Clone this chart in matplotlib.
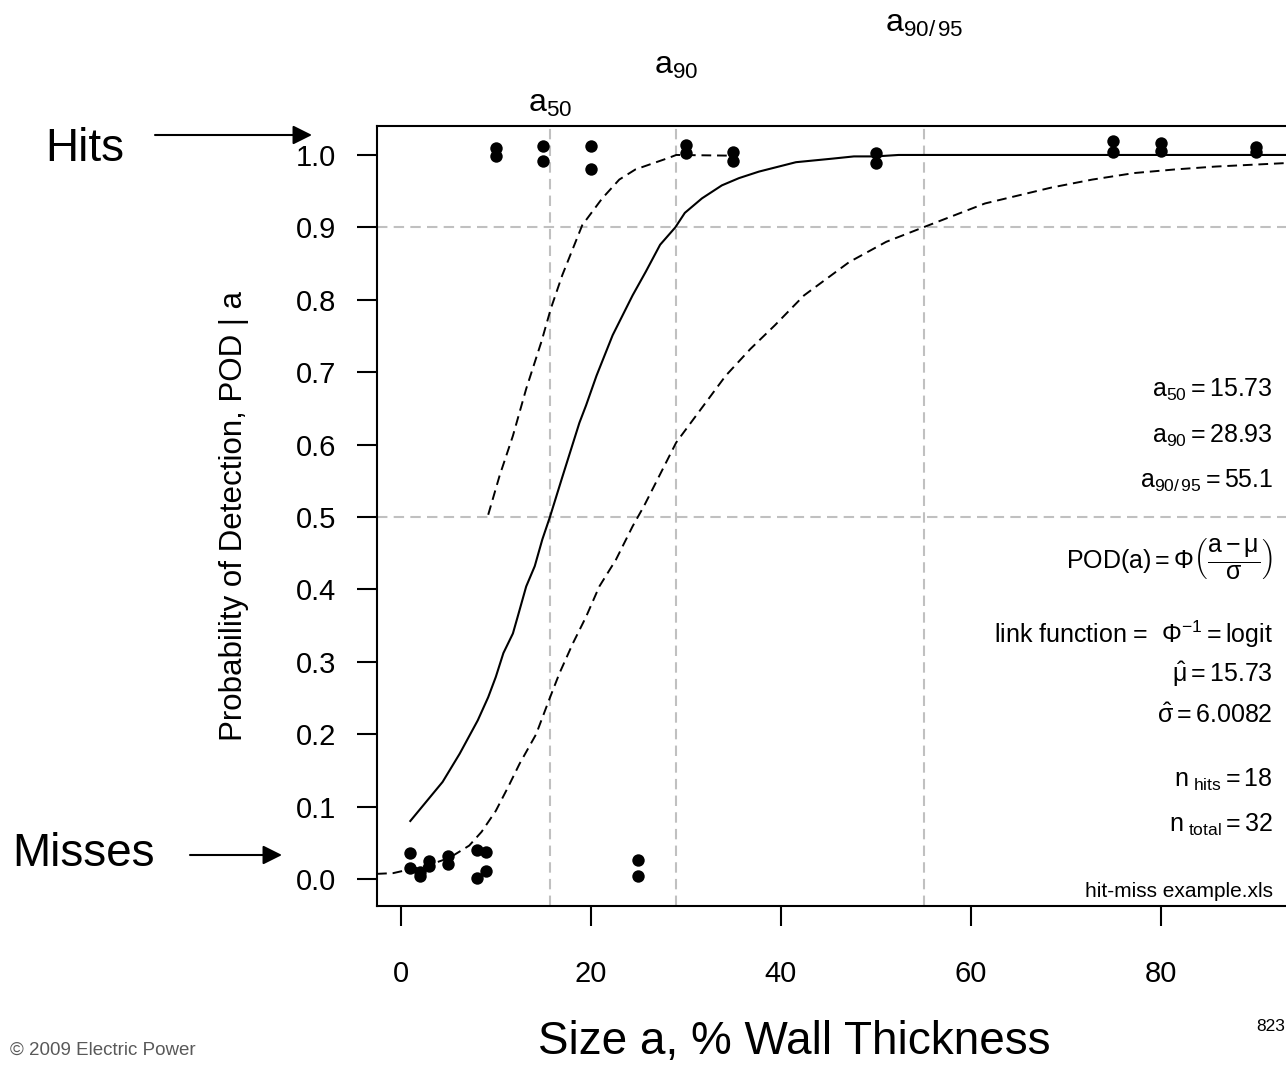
import numpy as np
import matplotlib
matplotlib.use('Agg')
import matplotlib.pyplot as plt
import matplotlib.transforms as mtransforms

plt.rcParams['font.family'] = ['Liberation Sans', 'DejaVu Sans']
plt.rcParams['mathtext.fontset'] = 'custom'
plt.rcParams['mathtext.rm'] = 'Liberation Sans'
plt.rcParams['mathtext.it'] = 'Liberation Sans'
plt.rcParams['mathtext.sf'] = 'Liberation Sans'
plt.rcParams['mathtext.bf'] = 'Liberation Sans:bold'

#__________________________________________________________
# hit / miss observations (size a, jittered POD)
hit_x = [10, 10, 15, 15, 20, 20, 30, 30, 35, 35, 50, 50, 75, 75, 80, 80, 90, 90]
hit_y = [1.010, 0.999, 1.013, 0.992, 1.013, 0.981, 1.014, 1.003, 1.004, 0.992,
         1.003, 0.989, 1.019, 1.004, 1.017, 1.005, 1.011, 1.004]
miss_x = [1, 1, 2, 2, 3, 3, 5, 5, 8, 8, 9, 9, 25, 25]
miss_y = [0.036, 0.015, 0.004, 0.010, 0.025, 0.018, 0.032, 0.021, 0.040, 0.001,
          0.037, 0.011, 0.026, 0.004]

# fitted POD curve
pod_x = [1.0, 4.4, 6.2, 8.1, 9.2, 10.0, 10.8, 11.8, 12.3, 13.2, 14.1, 14.9, 15.7,
         17.0, 18.8, 19.5, 20.6, 22.3, 24.4, 25.8, 27.3, 28.9, 29.9, 31.7, 33.8,
         35.6, 37.7, 39.5, 41.6, 45.5, 47.7, 50.0, 52.4, 93.5]
pod_y = [0.080, 0.134, 0.173, 0.219, 0.251, 0.279, 0.312, 0.339, 0.362, 0.404,
         0.432, 0.469, 0.500, 0.555, 0.630, 0.654, 0.695, 0.751, 0.806, 0.839,
         0.876, 0.900, 0.920, 0.940, 0.958, 0.968, 0.977, 0.983, 0.990, 0.995,
         0.998, 0.998, 1.000, 1.000]

# lower confidence bound
lo_x = [-2.5, -0.8, 0.2, 2.7, 5.1, 7.2, 8.5, 10.0, 11.3, 12.5, 14.25, 15.6, 16.7,
        18.1, 19.5, 20.9, 22.65, 24.4, 25.6, 29.0, 31.6, 34.2, 36.8, 39.4, 42.45,
        47.2, 51.1, 55.0, 61.5, 68.5, 72.8, 77.2, 81.5, 85.8, 93.5]
lo_y = [0.007, 0.008, 0.011, 0.018, 0.029, 0.046, 0.065, 0.094, 0.127, 0.159,
        0.200, 0.247, 0.284, 0.325, 0.362, 0.404, 0.441, 0.487, 0.515, 0.603,
        0.649, 0.695, 0.732, 0.765, 0.806, 0.852, 0.880, 0.900, 0.933, 0.955,
        0.966, 0.975, 0.980, 0.984, 0.989]

# upper confidence bound
hi_x = [9.2, 10.4, 11.8, 13.2, 14.8, 15.8, 17.0, 18.4, 19.1, 21.2, 23.0, 24.7,
        28.2, 29.0, 35.0]
hi_y = [0.503, 0.557, 0.612, 0.677, 0.742, 0.788, 0.834, 0.880, 0.903, 0.940,
        0.966, 0.980, 0.996, 1.000, 0.999]

a50 = 15.73
a90 = 28.93
a9095 = 55.1
pod_levels = [0.5, 0.9]

xticks = [0, 20, 40, 60, 80]
yticks = [0.0, 0.1, 0.2, 0.3, 0.4, 0.5, 0.6, 0.7, 0.8, 0.9, 1.0]

#__________________________________________________________
W, H = 1286, 1065
fig = plt.figure(figsize=(W / 100, H / 100), dpi=100)
ax = fig.add_axes([376.5 / W, (H - 905.7) / H, 913 / W, 779.7 / H])
ax.set_xlim(-2.56, 93.56)
ax.set_ylim(-0.037, 1.040)

gcol = '#c0c0c0'
for a in [a50, a90, a9095]:
    ax.axvline(a, color=gcol, lw=1.5, dashes=(5, 3), zorder=1)
for p in pod_levels:
    ax.axhline(p, color=gcol, lw=1.5, dashes=(5, 3), zorder=1)

ax.plot(pod_x, pod_y, color='k', lw=1.5, zorder=2)
ax.plot(lo_x, lo_y, color='k', lw=1.4, dashes=(5, 3), zorder=2)
ax.plot(hi_x, hi_y, color='k', lw=1.4, dashes=(5, 3), zorder=2)

ax.scatter(hit_x, hit_y, s=80, c='k', lw=0, zorder=3, clip_on=False)
ax.scatter(miss_x, miss_y, s=80, c='k', lw=0, zorder=3, clip_on=False)

for s in ax.spines.values():
    s.set_linewidth(1.5)

ax.set_xticks(xticks)
ax.set_yticks(yticks)
ax.set_yticklabels(['{:.1f}'.format(v) for v in yticks])
ax.tick_params(axis='both', direction='out', length=14.4, width=1.5, labelsize=21)
ax.tick_params(axis='x', pad=24.5)
ax.tick_params(axis='y', pad=14.4)

ax.set_ylabel('Probability of Detection, POD | a', fontsize=22.5)
ax.yaxis.set_label_coords(-0.1397, 0.5)

# labels for a50, a90, a90/95 above the plot
trans = mtransforms.blended_transform_factory(ax.transData, fig.transFigure)
ax.text(a50, 1 - 112 / H, r'$\mathrm{a}_{50}$', transform=trans, ha='center', va='baseline', fontsize=23)
ax.text(a90, 1 - 74 / H, r'$\mathrm{a}_{90}$', transform=trans, ha='center', va='baseline', fontsize=23)
ax.text(a9095, 1 - 32 / H, r'$\mathrm{a}_{90/\,95}$', transform=trans, ha='center', va='baseline', fontsize=23)

# right side annotations
xr = 1273 / W
notes = [
    (397, r'$\mathrm{a}_{50} = 15.73$', 18),
    (443, r'$\mathrm{a}_{90} = 28.93$', 18),
    (488, r'$\mathrm{a}_{90/\,95} = 55.1$', 18),
    (568, r'$\mathrm{POD(a)} = \Phi\left(\dfrac{\mathrm{a}-\mu}{\sigma}\right)$', 18),
    (643, r'link function =  $\Phi^{-1} = \mathrm{logit}$', 18),
    (682, r'$\hat{\mu} = 15.73$', 18),
    (723, r'$\hat{\sigma} = 6.0082$', 18),
    (787, r'$\mathrm{n}_{\ \mathrm{hits}} = 18$', 18),
    (832, r'$\mathrm{n}_{\ \mathrm{total}} = 32$', 18),
    (897, 'hit-miss example.xls', 15),
]
for yp, txt, fs in notes:
    fig.text(xr, 1 - yp / H, txt, ha='right', va='baseline', fontsize=fs)

# Hits / Misses with arrows
fig.text(45 / W, 1 - 161 / H, 'Hits', fontsize=33, va='baseline', ha='left')
fig.text(12 / W, 1 - 866 / H, 'Misses', fontsize=33, va='baseline', ha='left')
arrow = dict(arrowstyle='-|>,head_length=0.4,head_width=0.2', mutation_scale=29,
             lw=1.5, color='k', shrinkA=0, shrinkB=0)
ax.annotate('', xy=(312 / W, 1 - 135 / H), xytext=(155 / W, 1 - 135 / H),
            xycoords='figure fraction', textcoords='figure fraction', arrowprops=arrow)
ax.annotate('', xy=(282 / W, 1 - 855 / H), xytext=(190 / W, 1 - 855 / H),
            xycoords='figure fraction', textcoords='figure fraction', arrowprops=arrow)

# x axis title and footer
fig.text(794.5 / W, 1 - 1054 / H, 'Size a, % Wall Thickness', fontsize=33, ha='center', va='baseline')
fig.text(10 / W, 1 - 1055 / H, '\u00a9 2009 Electric Power', fontsize=13.5, color='#595959',
         ha='left', va='baseline')
fig.text(1256 / W, 1 - 1031 / H, '823', fontsize=12.5, ha='left', va='baseline')

plt.savefig('out.png', dpi=100)
plt.close()
